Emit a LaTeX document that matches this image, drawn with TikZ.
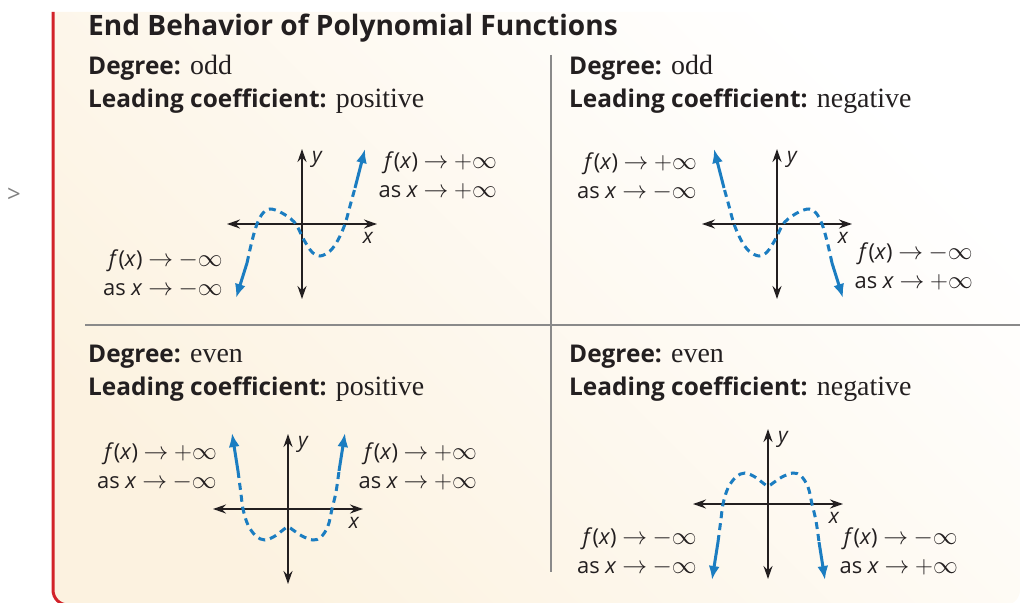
\documentclass[tikz,border=0pt]{standalone}
\usepackage{fontspec}
\setmainfont{Liberation Serif}
\setsansfont{Open Sans}
\usetikzlibrary{arrows.meta,calc}
\definecolor{BRed}{HTML}{D2232A}
\definecolor{BBlue}{HTML}{1B7DC1}
\definecolor{BInk}{HTML}{231F20}
\definecolor{BGrid}{HTML}{8A8A8A}
\definecolor{BCream}{HTML}{FCF2E0}

\newcommand{\hdkey}[1]{{\sffamily\bfseries\fontsize{24.5}{28}\selectfont #1}}
\newcommand{\symsz}{\fontsize{24}{24}\selectfont}
\newcommand{\fx}{\textit{f}(\textit{x})}
\newcommand{\asx}{as \textit{x}}
\newcommand{\goes}{\ {\symsz$\rightarrow$}\ }
\newcommand{\pinf}{{\symsz$+\infty$}}
\newcommand{\minf}{{\symsz$-\infty$}}
% two stacked limit lines, right aligned
\newcommand{\tends}[4]{%
  \node[lim,anchor=base east] (#1f) at #2 {#3};
  \node[lim,anchor=base east] (#1x) at ($#2+(0,29)$) {#4};}
% curve shapes, drawn round the origin of a panel
\newcommand{\oddgraph}{%
  \draw[crv] plot[smooth,tension=0.6] coordinates {(-55,39) (-50,17) (-45,0)
    (-39,-11) (-32,-15) (-22,-12) (-11,-5) (-5,2) (2,16) (10,28) (18,32)
    (28,27) (36,16) (43,0) (48,-18) (53,-36)};
  \draw[tip] (-55,39) -- (-66,74);
  \draw[tip] (53,-36) -- (63,-75);}
\newcommand{\evengraph}{%
  \draw[crv] plot[smooth,tension=0.6] coordinates {(-50,-38) (-47,-15) (-45,0)
    (-40,16) (-32,27) (-23,31) (-13,27) (-5,21) (0,18) (5,21) (14,27)
    (25,31) (33,28) (40,17) (44,0) (48,-17) (51,-38)};
  \draw[tip] (-50,-38) -- (-56,-76);
  \draw[tip] (51,-38) -- (57,-76);}

\begin{document}
\begin{tikzpicture}[x=1bp,y=-1bp,
  hd/.style={anchor=base west,inner sep=0,text=BInk,
    font=\fontsize{28}{30}\selectfont},
  lim/.style={inner sep=0,text=BInk,font=\sffamily\fontsize{22}{25}\selectfont},
  ax/.style={{Stealth[length=13bp,width=9bp]}-{Stealth[length=13bp,width=9bp]},
    line width=1.6bp,draw=BInk},
  axl/.style={inner sep=0,text=BInk,font=\sffamily\itshape\fontsize{21}{25}\selectfont},
  crv/.style={draw=BBlue,line width=3bp,dash pattern=on 7bp off 5bp},
  tip/.style={-{Latex[length=14bp,width=11bp]},draw=BBlue,fill=BBlue,line width=3bp},
  divider/.style={draw=BGrid,line width=1.3bp}
]
  \useasboundingbox (0,0) rectangle (1020,603);

  % box
  \shade[top color=white,bottom color=BCream,shading angle=-45]
    (1020,12) -- (53,12) [rounded corners=15bp] -- (53,605) -- (1020,605)
    [sharp corners] -- cycle;
  \draw[BRed,line width=3bp,rounded corners=15bp] (53,12) -- (53,605) -- (1020,605);
  \node[text=gray,font=\sffamily\fontsize{24}{26}\selectfont] (chev) at (14,195) {>};

  \node[hd,font=\sffamily\bfseries\fontsize{28.2}{34}\selectfont] (title) at (88,36)
    {End Behavior of Polynomial Functions};

  % grid
  \coordinate (vtop) at (551,55);
  \coordinate (vbot) at (551,572);
  \coordinate (hleft) at (85,325);
  \coordinate (hright) at (1020,325);
  \draw[divider] (vtop) -- (vbot);
  \draw[divider] (hleft) -- (hright);

  \node[hd] (deg1) at (88,75) {\hdkey{Degree:} odd};
  \node[hd] (lc1) at (88,108) {\hdkey{Leading coefficient:} positive};
  \node[hd] (deg2) at (569,75) {\hdkey{Degree:} odd};
  \node[hd] (lc2) at (569,108) {\hdkey{Leading coefficient:} negative};
  \node[hd] (deg3) at (88,362) {\hdkey{Degree:} even};
  \node[hd] (lc3) at (88,395) {\hdkey{Leading coefficient:} positive};
  \node[hd] (deg4) at (569,362) {\hdkey{Degree:} even};
  \node[hd] (lc4) at (569,395) {\hdkey{Leading coefficient:} negative};

  % axes
  \foreach \p/\ox/\oy in {1/302/224,2/777/224,3/288/509,4/768/504}{
    \coordinate (o\p) at (\ox,\oy);
    \coordinate (w\p) at (\ox-75,\oy);
    \coordinate (e\p) at (\ox+75,\oy);
    \coordinate (n\p) at (\ox,\oy-75);
    \coordinate (s\p) at (\ox,\oy+75);
    \draw[ax] (w\p) -- (e\p);
    \draw[ax] (n\p) -- (s\p);
    \node[axl] (xl\p) at (\ox+66,\oy+14) {x};
    \node[axl] (yl\p) at (\ox+15,\oy-65) {y};
  }

  \begin{scope}[shift={(o1)}] \oddgraph \end{scope}
  \begin{scope}[shift={(o2)},xscale=-1] \oddgraph \end{scope}
  \begin{scope}[shift={(o3)}] \evengraph \end{scope}
  \begin{scope}[shift={(o4)},yscale=-1] \evengraph \end{scope}

  % limits
  \tends{oddposR}{(497,169)}{\fx\goes\pinf}{\asx\goes\pinf}
  \tends{oddposL}{(223,267)}{\fx\goes\minf}{\asx\goes\minf}
  \tends{oddnegL}{(697,170)}{\fx\goes\pinf}{\asx\goes\minf}
  \tends{oddnegR}{(973,260)}{\fx\goes\minf}{\asx\goes\pinf}
  \tends{evenposL}{(217,459)}{\fx\goes\pinf}{\asx\goes\minf}
  \tends{evenposR}{(477,459)}{\fx\goes\pinf}{\asx\goes\pinf}
  \tends{evennegL}{(697,544)}{\fx\goes\minf}{\asx\goes\minf}
  \tends{evennegR}{(958,544)}{\fx\goes\minf}{\asx\goes\pinf}
\end{tikzpicture}
\end{document}
